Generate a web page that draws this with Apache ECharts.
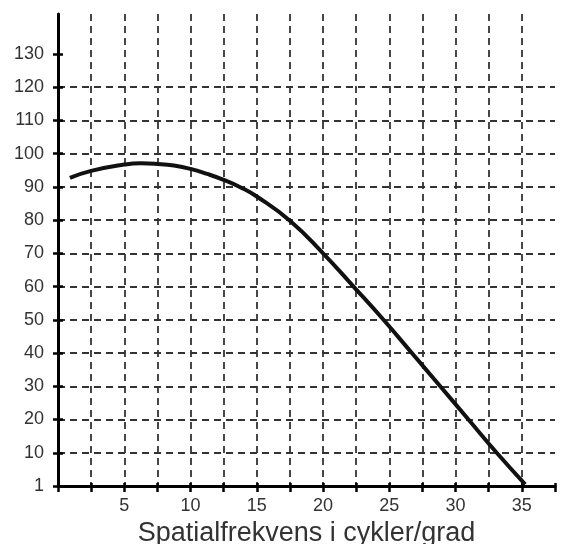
<!DOCTYPE html>
<html>
<head>
<meta charset="utf-8">
<script src="https://cdn.jsdelivr.net/npm/echarts@6/dist/echarts.min.js"></script>
<style>
  html, body { margin: 0; padding: 0; background: #fff; }
  #chart { width: 563px; height: 544px; }
</style>
</head>
<body>
<div id="chart"></div>
<script>
// kurvans punkter
const freq = [0.9, 2.5, 5, 6.25, 7.5, 8.75, 10, 11.25, 12.5, 13.75, 15, 17.5, 20, 22.3, 24.56, 26.7, 28.84, 30.97, 33.1, 35.25]
const sens = [92.7, 94.8, 96.7, 97.1, 96.9, 96.4, 95.4, 93.9, 92.1, 89.9, 87.1, 79.8, 70, 60, 50, 40, 30, 20, 10, 0.5]

// axlar
const xStep = 2.5
const xLabels = [5, 10, 15, 20, 25, 30, 35]
const yTicks = [0, 10, 20, 30, 40, 50, 60, 70, 80, 90, 100, 110, 120, 130]
const yLabels = [0, 10, 20, 30, 40, 50, 60, 70, 80, 90, 100, 110, 120, 130]
const xName = 'Spatialfrekvens i cykler/grad'

const chart = echarts.init(document.getElementById('chart'))

const gridDash = {
  show: true,
  showMinLine: false,
  showMaxLine: false,
  lineStyle: { color: '#333', width: 1.8, type: [7, 5] }
}

chart.setOption({
  animation: false,
  grid: { left: 58, right: 8, top: 14, bottom: 58, outerBoundsMode: 'none', containLabel: false },
  xAxis: [
    {
      type: 'value',
      min: 0,
      max: 37.5,
      interval: xStep,
      position: 'bottom',
      axisLine: { show: true, lineStyle: { color: '#000', width: 3 } },
      axisTick: { show: true, length: 6, lineStyle: { color: '#000', width: 2.5 } },
      axisLabel: {
        customValues: xLabels,
        margin: 11,
        fontSize: 18,
        color: '#333',
        fontFamily: 'Liberation Sans'
      },
      splitLine: gridDash,
      name: xName,
      nameLocation: 'middle',
      nameGap: 33,
      nameTextStyle: { fontSize: 27, color: '#333', fontFamily: 'Liberation Sans' }
    },
    {
      // korta streck innanför axeln
      type: 'value',
      min: 0,
      max: 37.5,
      interval: xStep,
      position: 'bottom',
      axisLine: { show: false },
      axisTick: { show: true, inside: true, length: 3, lineStyle: { color: '#000', width: 2.5 } },
      axisLabel: { show: false },
      splitLine: { show: false }
    }
  ],
  yAxis: [
    {
      type: 'value',
      min: 0,
      max: 142,
      position: 'left',
      axisLine: { show: true, lineStyle: { color: '#000', width: 3 } },
      axisTick: { show: true, length: 5, customValues: yTicks, lineStyle: { color: '#000', width: 2.5 } },
      axisLabel: {
        customValues: yLabels,
        margin: 14,
        fontSize: 18,
        color: '#333',
        fontFamily: 'Liberation Sans',
        formatter: v => (v === 0 ? '1' : String(v))
      },
      splitLine: gridDash
    },
    {
      type: 'value',
      min: 0,
      max: 142,
      position: 'left',
      axisLine: { show: false },
      axisTick: { show: true, inside: true, length: 5, customValues: yTicks, lineStyle: { color: '#000', width: 2.5 } },
      axisLabel: { show: false },
      splitLine: { show: false }
    }
  ],
  series: [
    {
      type: 'line',
      xAxisIndex: 0,
      yAxisIndex: 0,
      smooth: 0.5,
      symbol: 'none',
      lineStyle: { color: '#111', width: 4 },
      data: freq.map((f, i) => [f, sens[i]])
    }
  ]
})
</script>
</body>
</html>
